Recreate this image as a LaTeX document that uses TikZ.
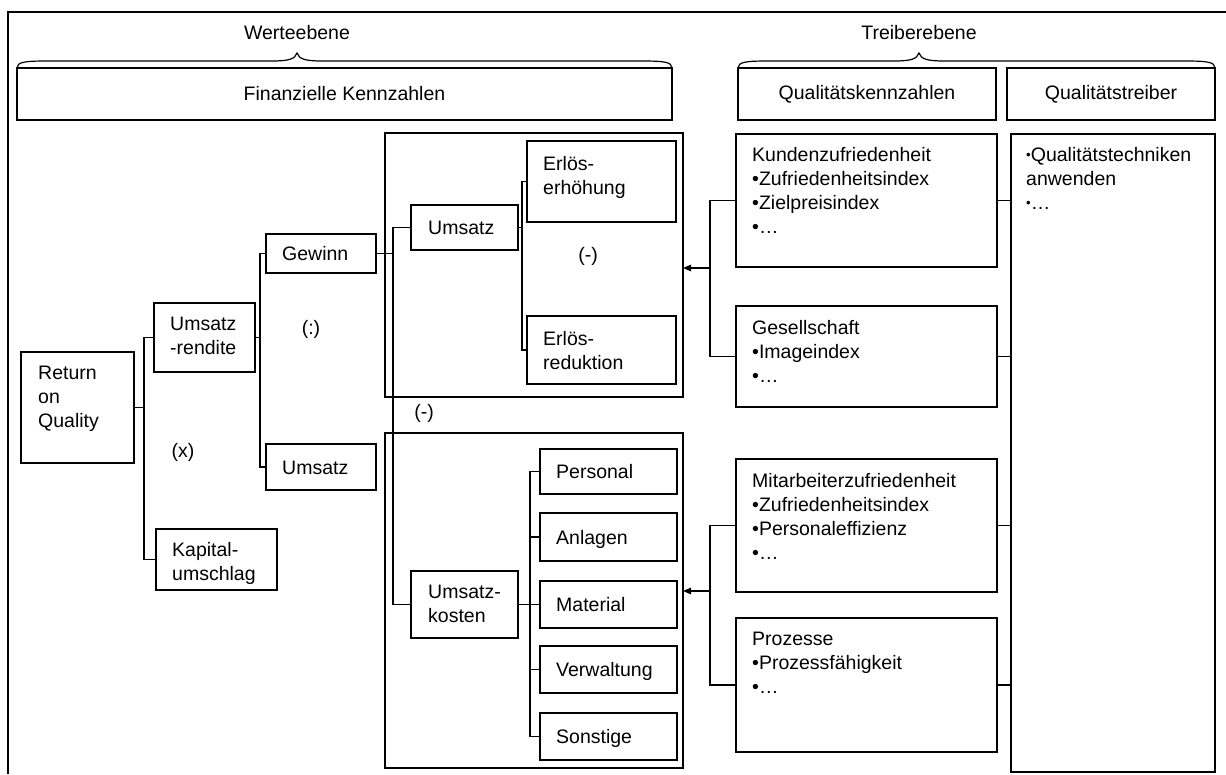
\documentclass[tikz,border=0pt]{standalone}
\usepackage{fontspec}
\setmainfont{Liberation Sans}
\usetikzlibrary{arrows.meta}

% box from its corners: name, x1, y1, x2, y2 (y grows downward)
\newcommand\bx[5]{\node[box, minimum width={#4-#2}, minimum height={#5-#3}]
  (#1) at ({(#2+#4)/2},{(#3+#5)/2}) {};}
% curly brace over a header row: left end, tip, right end
\newcommand\hbrace[3]{\draw[line width=1.2pt]
  (#1,68) .. controls (#1,62) and (#1+8,61) .. (#1+30,61)
  -- (#2-25,61) .. controls (#2-8,61) and (#2-2,59) .. (#2,53)
  .. controls (#2+2,59) and (#2+8,61) .. (#2+25,61)
  -- (#3-30,61) .. controls (#3-8,61) and (#3,62) .. (#3,68);}
\newcommand\smb{\raisebox{0.1em}{\scalebox{0.68}{•}}}

\begin{document}
\begin{tikzpicture}[x=1pt,y=-1pt,
  every node/.style={font=\fontsize{19.5}{24}\selectfont},
  box/.style={draw, line width=1.45pt, inner sep=0, outer sep=0},
  lbl/.style={inner sep=0, anchor=north west, align=left},
  one/.style={inner sep=0, anchor=base west},
  ctr/.style={inner sep=0, anchor=base},
  wire/.style={line width=1.35pt},
  feed/.style={line width=1.35pt, -{Triangle[length=8pt,width=6.5pt]}}]
\useasboundingbox (0,0) rectangle (1226,774);

% outer frame
\draw[line width=1.45pt] (1226,12) -- (8,12) -- (8,774);

% levels
\node[ctr] (wl) at (297,39.5) {Werteebene};
\node[ctr] (tl) at (919,39.5) {Treiberebene};
\hbrace{17}{297}{672}
\hbrace{738}{919}{1215}

% header row
\bx{fk}{17}{68}{672}{120}
\bx{qk}{738}{68}{996}{120}
\bx{qth}{1007}{68}{1215}{120}
\node[inner sep=0] (fkt) at (fk) {Finanzielle Kennzahlen};
\node[inner sep=0] (qkt) at (qk) {Qualitätskennzahlen};
\node[inner sep=0] (qtht) at (qth) {Qualitätstreiber};

% financial tree
\bx{roq}{21}{352}{134}{463}
\node[lbl] (roqt) at (38,366) {Return\\on\\Quality};
\bx{ur}{154}{303}{255}{372}
\node[lbl] (urt) at (170,317) {Umsatz\\-rendite};
\bx{kap}{156}{529}{277}{590}
\node[lbl] (kapt) at (172,542) {Kapital-\\umschlag};
\bx{gew}{266}{234}{376}{273}
\node[one] (gewt) at (282,260.5) {Gewinn};
\bx{ums}{266}{444}{376}{490}
\node[one] (umst) at (282,474) {Umsatz};

\node[inner sep=0] (opx) at (183,452) {(x)};
\node[inner sep=0] (opd) at (311,329) {(:)};

% revenue group
\bx{ubox}{385}{133}{683}{397}
\bx{um}{411}{205}{518}{250}
\node[one] (umt) at (428,234.5) {Umsatz};
\bx{ee}{527}{141}{676}{222}
\node[lbl] (eet) at (543,156) {Erlös-\\erhöhung};
\bx{er}{527}{316}{676}{384}
\node[lbl] (ert) at (543,331) {Erlös-\\reduktion};
\node[inner sep=0] (opm1) at (588,256) {(-)};
\node[inner sep=0] (opm2) at (424,413) {(-)};

% cost group
\bx{lbox}{385}{433}{683}{768}
\bx{uk}{411}{571}{518}{638}
\node[lbl] (ukt) at (428,585) {Umsatz-\\kosten};
\bx{pe}{540}{449}{677}{494}
\node[one] (pet) at (556,478.5) {Personal};
\bx{an}{540}{513}{677}{561}
\node[one] (ant) at (556,544) {Anlagen};
\bx{ma}{540}{581}{677}{628}
\node[one] (mat) at (556,611.5) {Material};
\bx{ve}{540}{646}{677}{693}
\node[one] (vet) at (556,676.5) {Verwaltung};
\bx{so}{540}{713}{677}{760}
\node[one] (sot) at (556,743.5) {Sonstige};

% quality indicators
\bx{kz}{736}{134}{997}{267}
\node[lbl] (kzt) at (752,147) {Kundenzufriedenheit\\•Zufriedenheitsindex\\•Zielpreisindex\\•…};
\bx{ge}{736}{306}{997}{407}
\node[lbl] (get) at (752,320) {Gesellschaft\\•Imageindex\\•…};
\bx{mz}{736}{459}{997}{592}
\node[lbl] (mzt) at (752,473) {Mitarbeiterzufriedenheit\\•Zufriedenheitsindex\\•Personaleffizienz\\•…};
\bx{pz}{736}{618}{997}{752}
\node[lbl] (pzt) at (752,632) {Prozesse\\•Prozessfähigkeit\\•…};

% quality drivers
\bx{qt}{1011}{134}{1215}{772}
\node[lbl] (qtt) at (1026,147) {\smb Qualitätstechniken\\anwenden\\\smb…};

% tree connectors
\draw[wire] (roq.east) -- ++(10,0) |- (ur.west);
\draw[wire] (roq.east) ++(10,0) |- (kap.west);
\draw[wire] (ur.east) -- ++(5,0) |- (gew.west);
\draw[wire] (ur.east) ++(5,0) |- (ums.west);
\draw[wire] (gew.east) -- ++(17,0) |- (um.west);
\draw[wire] (gew.east) ++(17,0) |- (uk.west);
\draw[wire] (um.east) -- ++(4,0) |- (ee.west);
\draw[wire] (um.east) ++(4,0) |- (er.west);
\foreach \t in {pe,an,ma,ve,so}
  \draw[wire] (uk.east) -- ++(12,0) |- (\t.west);

% indicator connectors
\draw[wire] (kz.west) -- ++(-26,0) |- (ge.west);
\draw[wire] (mz.west) -- ++(-26,0) |- (pz.west);
\coordinate (fa) at (710,268);
\coordinate (fb) at (710,591);
\draw[feed] (fa) -- (fa -| ubox.east);
\draw[feed] (fb) -- (fb -| lbox.east);
\foreach \t in {kz,ge,mz,pz}
  \draw[wire] (\t.east) -- (\t.east -| qt.west);
\end{tikzpicture}
\end{document}
